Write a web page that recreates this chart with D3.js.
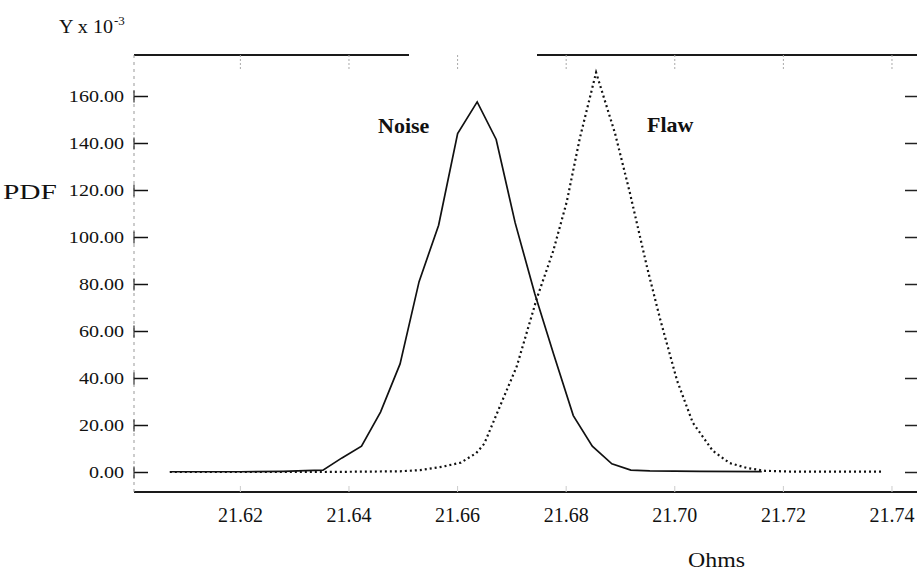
<!DOCTYPE html>
<html>
<head>
<meta charset="utf-8">
<script src="https://cdn.jsdelivr.net/npm/d3@7/dist/d3.min.js"></script>
<style>
  body { margin: 0; background: #fff; }
  svg { display: block; font-family: "Liberation Serif", "Times New Roman", serif; }
</style>
</head>
<body>
<svg id="chart" width="917" height="572"></svg>
<script>
// ---- data ----
const yTicks = [0, 20, 40, 60, 80, 100, 120, 140, 160];
const xTicks = [21.62, 21.64, 21.66, 21.68, 21.70, 21.72, 21.74];

const noiseX = [21.6071, 21.6200, 21.6280, 21.6320, 21.6353, 21.6388, 21.6424, 21.6459, 21.6495,
                21.6530, 21.6566, 21.6601, 21.6637, 21.6672, 21.6707, 21.6743, 21.6778, 21.6814,
                21.6849, 21.6885, 21.6920, 21.6955, 21.7047, 21.7161];
const noiseY = [0.1, 0.1, 0.3, 0.6, 0.8, 6, 11, 25.5, 46,
                81, 105, 144, 157.5, 141.5, 106, 76, 50, 24,
                11, 3.5, 0.8, 0.5, 0.3, 0.2];

const flawX = [21.6071, 21.6353, 21.6495, 21.6532, 21.6572, 21.6607, 21.6635, 21.6650, 21.6679,
               21.6710, 21.6747, 21.6777, 21.6802, 21.6826, 21.6856, 21.6891, 21.6918, 21.6950,
               21.6974, 21.7005, 21.7034, 21.7071, 21.7102, 21.7134, 21.7167, 21.7213, 21.7384];
const flawY = [0, 0, 0.3, 0.8, 2.2, 4, 8, 12, 28,
               45, 74, 94, 115, 142, 170, 144, 119, 87,
               65, 39, 21, 9, 3.8, 1.7, 0.5, 0.2, 0.2];

const seriesLabels = ["Noise", "Flaw"];

// ---- layout ----
const svg = d3.select("#chart");
const pLeft = 134, pRight = 917, pTop = 55, pBottom = 492;
const x = d3.scaleLinear().domain([21.6005, 21.7447]).range([pLeft, pRight]);
const y = d3.scaleLinear().domain([0, 160]).range([472, 96]);
const FONT = '"Liberation Serif", "Times New Roman", serif';

function stretch(sel, k) {
  sel.each(function () {
    const w = this.getComputedTextLength();
    d3.select(this).attr("textLength", w * k).attr("lengthAdjust", "spacingAndGlyphs");
  });
}

// frame lines
svg.append("line").attr("x1", pLeft).attr("x2", 409).attr("y1", pTop).attr("y2", pTop)
  .attr("stroke", "#1a1a1a").attr("stroke-width", 2);
svg.append("line").attr("x1", 537).attr("x2", pRight).attr("y1", pTop).attr("y2", pTop)
  .attr("stroke", "#1a1a1a").attr("stroke-width", 2);
svg.append("line").attr("x1", pLeft).attr("x2", pRight).attr("y1", pBottom).attr("y2", pBottom)
  .attr("stroke", "#1a1a1a").attr("stroke-width", 2);
svg.append("line").attr("x1", pLeft).attr("x2", pLeft).attr("y1", pTop).attr("y2", pBottom)
  .attr("stroke", "#999").attr("stroke-width", 1).attr("stroke-dasharray", "3,4");

// left y axis
const yAxis = svg.append("g").attr("transform", `translate(${pLeft},0)`)
  .call(d3.axisLeft(y).tickValues(yTicks).tickFormat(d3.format(".2f"))
        .tickSizeInner(-14).tickSizeOuter(0).tickPadding(10));
yAxis.attr("font-family", FONT);
yAxis.select(".domain").remove();
yAxis.selectAll(".tick line").attr("stroke", "#111").attr("stroke-width", 1.5);
yAxis.selectAll(".tick").append("line")
  .attr("x1", 0).attr("x2", 0).attr("y1", -6).attr("y2", 6)
  .attr("stroke", "#333").attr("stroke-width", 1.2);
yAxis.selectAll(".tick text").attr("font-family", FONT).attr("font-size", 17).attr("fill", "#111")
  .call(stretch, 1.18);

// right ticks
const yRight = svg.append("g").attr("transform", `translate(${pRight},0)`)
  .call(d3.axisRight(y).tickValues(yTicks).tickSizeInner(-12).tickSizeOuter(0).tickFormat(""));
yRight.select(".domain").remove();
yRight.selectAll(".tick line").attr("stroke", "#222").attr("stroke-width", 1.5);

// bottom x axis labels
const xAxis = svg.append("g").attr("transform", `translate(0,${pBottom})`)
  .call(d3.axisBottom(x).tickValues(xTicks).tickFormat(d3.format(".2f"))
        .tickSizeInner(-6).tickSizeOuter(0).tickPadding(16));
xAxis.attr("font-family", FONT);
xAxis.select(".domain").remove();
xAxis.selectAll(".tick line").attr("stroke", "#ccc").attr("stroke-width", 1);
xAxis.selectAll(".tick text").attr("font-family", FONT).attr("font-size", 20).attr("fill", "#111");

// faint top ticks
const xTop = svg.append("g").attr("transform", `translate(0,${pTop})`)
  .call(d3.axisTop(x).tickValues(xTicks).tickSizeInner(-14).tickSizeOuter(0).tickFormat(""));
xTop.select(".domain").remove();
xTop.selectAll(".tick line").attr("stroke", "#aaa").attr("stroke-width", 1).attr("stroke-dasharray", "2,2");

// series
const line = d3.line().x(d => x(d[0])).y(d => y(d[1]));
const flawPts = flawX.map((v, i) => [v, flawY[i]]);
const noisePts = noiseX.map((v, i) => [v, noiseY[i]]);

svg.append("path").attr("d", line(flawPts)).attr("fill", "none")
  .attr("stroke", "#111").attr("stroke-width", 2.2).attr("stroke-dasharray", "2,3");
svg.append("path").attr("d", line(noisePts)).attr("fill", "none")
  .attr("stroke", "#111").attr("stroke-width", 1.7).attr("stroke-linejoin", "miter");

// series labels
svg.append("text").attr("x", 378).attr("y", 133).text(seriesLabels[0])
  .attr("font-family", FONT).attr("font-size", 22).attr("font-weight", "bold").attr("fill", "#111");
svg.append("text").attr("x", 647).attr("y", 132).text(seriesLabels[1])
  .attr("font-family", FONT).attr("font-size", 22).attr("font-weight", "bold").attr("fill", "#111");

// axis titles
svg.append("text").attr("x", 688).attr("y", 567).text("Ohms")
  .attr("font-family", FONT).attr("font-size", 22).attr("fill", "#111")
  .attr("textLength", 57).attr("lengthAdjust", "spacingAndGlyphs");
svg.append("text").attr("x", 3).attr("y", 199).text("PDF")
  .attr("font-family", FONT).attr("font-size", 20).attr("fill", "#111")
  .attr("textLength", 54).attr("lengthAdjust", "spacingAndGlyphs");
const yl = svg.append("text").attr("x", 59).attr("y", 33)
  .attr("font-family", FONT).attr("font-size", 18).attr("fill", "#111");
yl.append("tspan").text("Y x 10").attr("textLength", 54).attr("lengthAdjust", "spacingAndGlyphs");
svg.append("text").attr("x", 114).attr("y", 25).text("-3")
  .attr("font-family", FONT).attr("font-size", 13).attr("fill", "#111");
</script>
</body>
</html>
